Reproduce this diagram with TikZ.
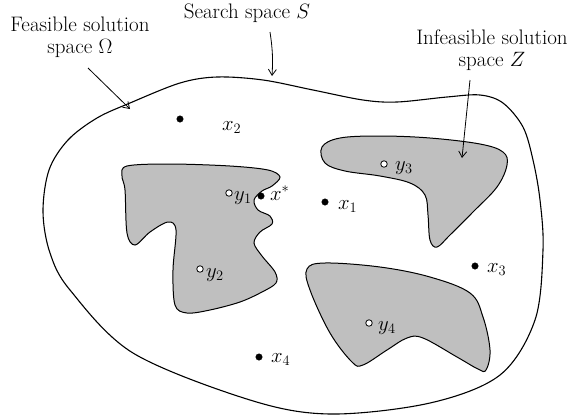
\documentclass[tikz,border=0pt]{standalone}
\usetikzlibrary{arrows.meta}
\begin{document}
\begin{tikzpicture}[x=1pt,y=-1pt,
  every node/.style={font=\fontsize{21}{24}\selectfont},
  region/.style={draw=black,line width=1pt,fill=black!25},
  outline/.style={draw=black,line width=1.1pt},
  fdot/.style={circle,fill=black,draw=black,inner sep=0pt,minimum size=6.5pt},
  odot/.style={circle,fill=white,draw=black,line width=0.8pt,inner sep=0pt,minimum size=6.5pt},
  lbl/.style={anchor=base west,inner sep=0pt},
  pointer/.style={draw=black,line width=0.8pt,-{Straight Barb[length=6pt,width=8pt]}}]
\useasboundingbox (0,0) rectangle (573,416);
% search space
\draw[outline] plot[smooth cycle,tension=0.55] coordinates {
 (43,212) (49,170) (68,140) (97,118) (130,103) (180,83) (217,77) (263,80) (313,90)
 (363,100) (397,102) (447,97) (480,95) (503,103) (523,127) (533,160)
 (540,200) (543,250) (535,320) (500,375) (430,403) (330,414) (250,400)
 (133,353) (70,290) (50,253)};
% infeasible region 1
\draw[region] plot[smooth cycle,tension=0.55] coordinates {
 (127,166) (170,164) (230,166) (268,170) (280,177) (272,186) (262,191)
 (254,200) (258,210) (270,216) (272,224) (260,232) (254,243) (262,256)
 (275,272) (276,283) (262,292) (240,302) (210,310) (187,313) (175,305)
 (173,270) (176,230) (168,222) (150,232) (135,245) (127,233) (125,190) (122,176)};
% infeasible region 2
\draw[region] plot[smooth cycle,tension=0.6] coordinates {
 (322,147) (340,138) (380,136) (430,138) (480,144) (503,152) (507,165)
 (497,187) (473,212) (450,235) (437,247) (430,240) (428,215) (425,195)
 (410,183) (380,176) (345,171) (325,163)};
% infeasible region 3
\draw[region] plot[smooth cycle,tension=0.6] coordinates {
 (307,269) (325,263) (380,267) (430,277) (470,293) (483,317) (490,350)
 (486,370) (478,369) (457,357) (423,338) (407,338) (387,350) (363,365)
 (352,362) (330,333) (310,290)};
% points
\node[fdot] (dx2) at (180,119) {};
\node[lbl] (lx2) at (222,130) {$x_2$};
\node[fdot] (dxs) at (261,196) {};
\node[lbl] (lxs) at (270,200) {$x^*$};
\node[odot] (dy1) at (229,193) {};
\node[lbl] (ly1) at (234,200) {$y_1$};
\node[fdot] (dx1) at (325,202) {};
\node[lbl] (lx1) at (338,209) {$x_1$};
\node[odot] (dy2) at (200,269) {};
\node[lbl] (ly2) at (206,277) {$y_2$};
\node[odot] (dy3) at (384,164) {};
\node[lbl] (ly3) at (395,170) {$y_3$};
\node[fdot] (dx3) at (475,266) {};
\node[lbl] (lx3) at (487,272) {$x_3$};
\node[odot] (dy4) at (369,323) {};
\node[lbl] (ly4) at (378,330) {$y_4$};
\node[fdot] (dx4) at (259,357) {};
\node[lbl] (lx4) at (271,362) {$x_4$};
% labels
\node[align=center,inner sep=0pt] (tomega) at (80,37) {Feasible solution\\[-2pt]space $\Omega$};
\node[anchor=base,inner sep=0pt] (ts) at (247,18) {Search space $S$};
\node[align=center,inner sep=0pt] (tz) at (492,50) {Infeasible solution\\[-2pt]space $Z$};
% arrows
\coordinate (a1s) at (88,68);
\coordinate (a1e) at (130,109);
\coordinate (a2s) at (270,32);
\coordinate (a2e) at (272,76);
\coordinate (a3s) at (470,80);
\coordinate (a3e) at (462,158);
\draw[pointer] (a1s) -- (a1e);
\draw[pointer] (a2s) to[bend left=6] (a2e);
\draw[pointer] (a3s) -- (a3e);
\end{tikzpicture}
\end{document}
